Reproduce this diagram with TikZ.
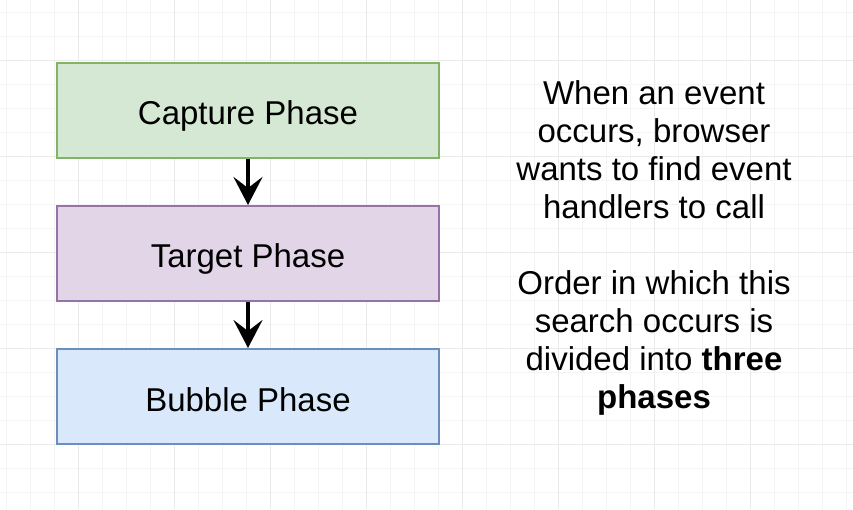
\documentclass[tikz,border=0pt]{standalone}
\usepackage{fontspec}
\setmainfont{Liberation Sans}
\usetikzlibrary{arrows.meta}
\definecolor{gminor}{HTML}{F4F4F4}
\definecolor{gmajor}{HTML}{EAEAEA}
\definecolor{gfill}{HTML}{D5E8D4}
\definecolor{gline}{HTML}{82B366}
\definecolor{pfill}{HTML}{E1D5E7}
\definecolor{pline}{HTML}{9673A6}
\definecolor{bfill}{HTML}{DAE8FC}
\definecolor{bline}{HTML}{6C8EBF}
\tikzset{
  phasebox/.style={draw, line width=2pt, minimum width=382pt, minimum height=95pt, inner sep=0pt,
    text height=29pt, text depth=0pt, font=\fontsize{33}{38}\selectfont},
  flow/.style={line width=3.2pt, -{Stealth[length=28pt,width=29pt,inset=11pt]}},
  note/.style={align=center, inner sep=0pt, font=\fontsize{33}{38}\selectfont}
}
\begin{document}
\begin{tikzpicture}[x=1pt,y=1pt]
\fill[white] (0,0) rectangle (853,509);
\useasboundingbox (0,0) rectangle (853,509);
% grid
\foreach \i in {0,...,35} {
  \pgfmathsetmacro\xx{6.7+24*\i}
  \draw[gminor, line width=1pt] (\xx,0) -- (\xx,509);
}
\foreach \i in {0,...,21} {
  \pgfmathsetmacro\yy{509-(12.3+24*\i)}
  \draw[gminor, line width=1pt] (0,\yy) -- (853,\yy);
}
\foreach \i in {0,...,8} {
  \pgfmathsetmacro\xx{78.7+96*\i-96}
  \draw[gmajor, line width=1pt] (\xx,0) -- (\xx,509);
}
\foreach \i in {0,...,5} {
  \pgfmathsetmacro\yy{509-(60.3+96*\i)}
  \draw[gmajor, line width=1pt] (0,\yy) -- (853,\yy);
}
% boxes
\node[phasebox, fill=gfill, draw=gline] (cap) at (248,398.5) {Capture Phase};
\node[phasebox, fill=pfill, draw=pline] (tgt) at (248,255.5) {Target Phase};
\node[phasebox, fill=bfill, draw=bline] (bub) at (248,112.5) {Bubble Phase};
\draw[flow] (cap.south) -- (tgt.north);
\draw[flow] (tgt.south) -- (bub.north);
% text
\node[note] (t1) at (654,359) {When an event\\occurs, browser\\wants to find event\\handlers to call};
\node[note] (t2) at (654,166) {Order in which this\\search occurs is\\divided into \textbf{three}\\\textbf{phases}};
\end{tikzpicture}
\end{document}
